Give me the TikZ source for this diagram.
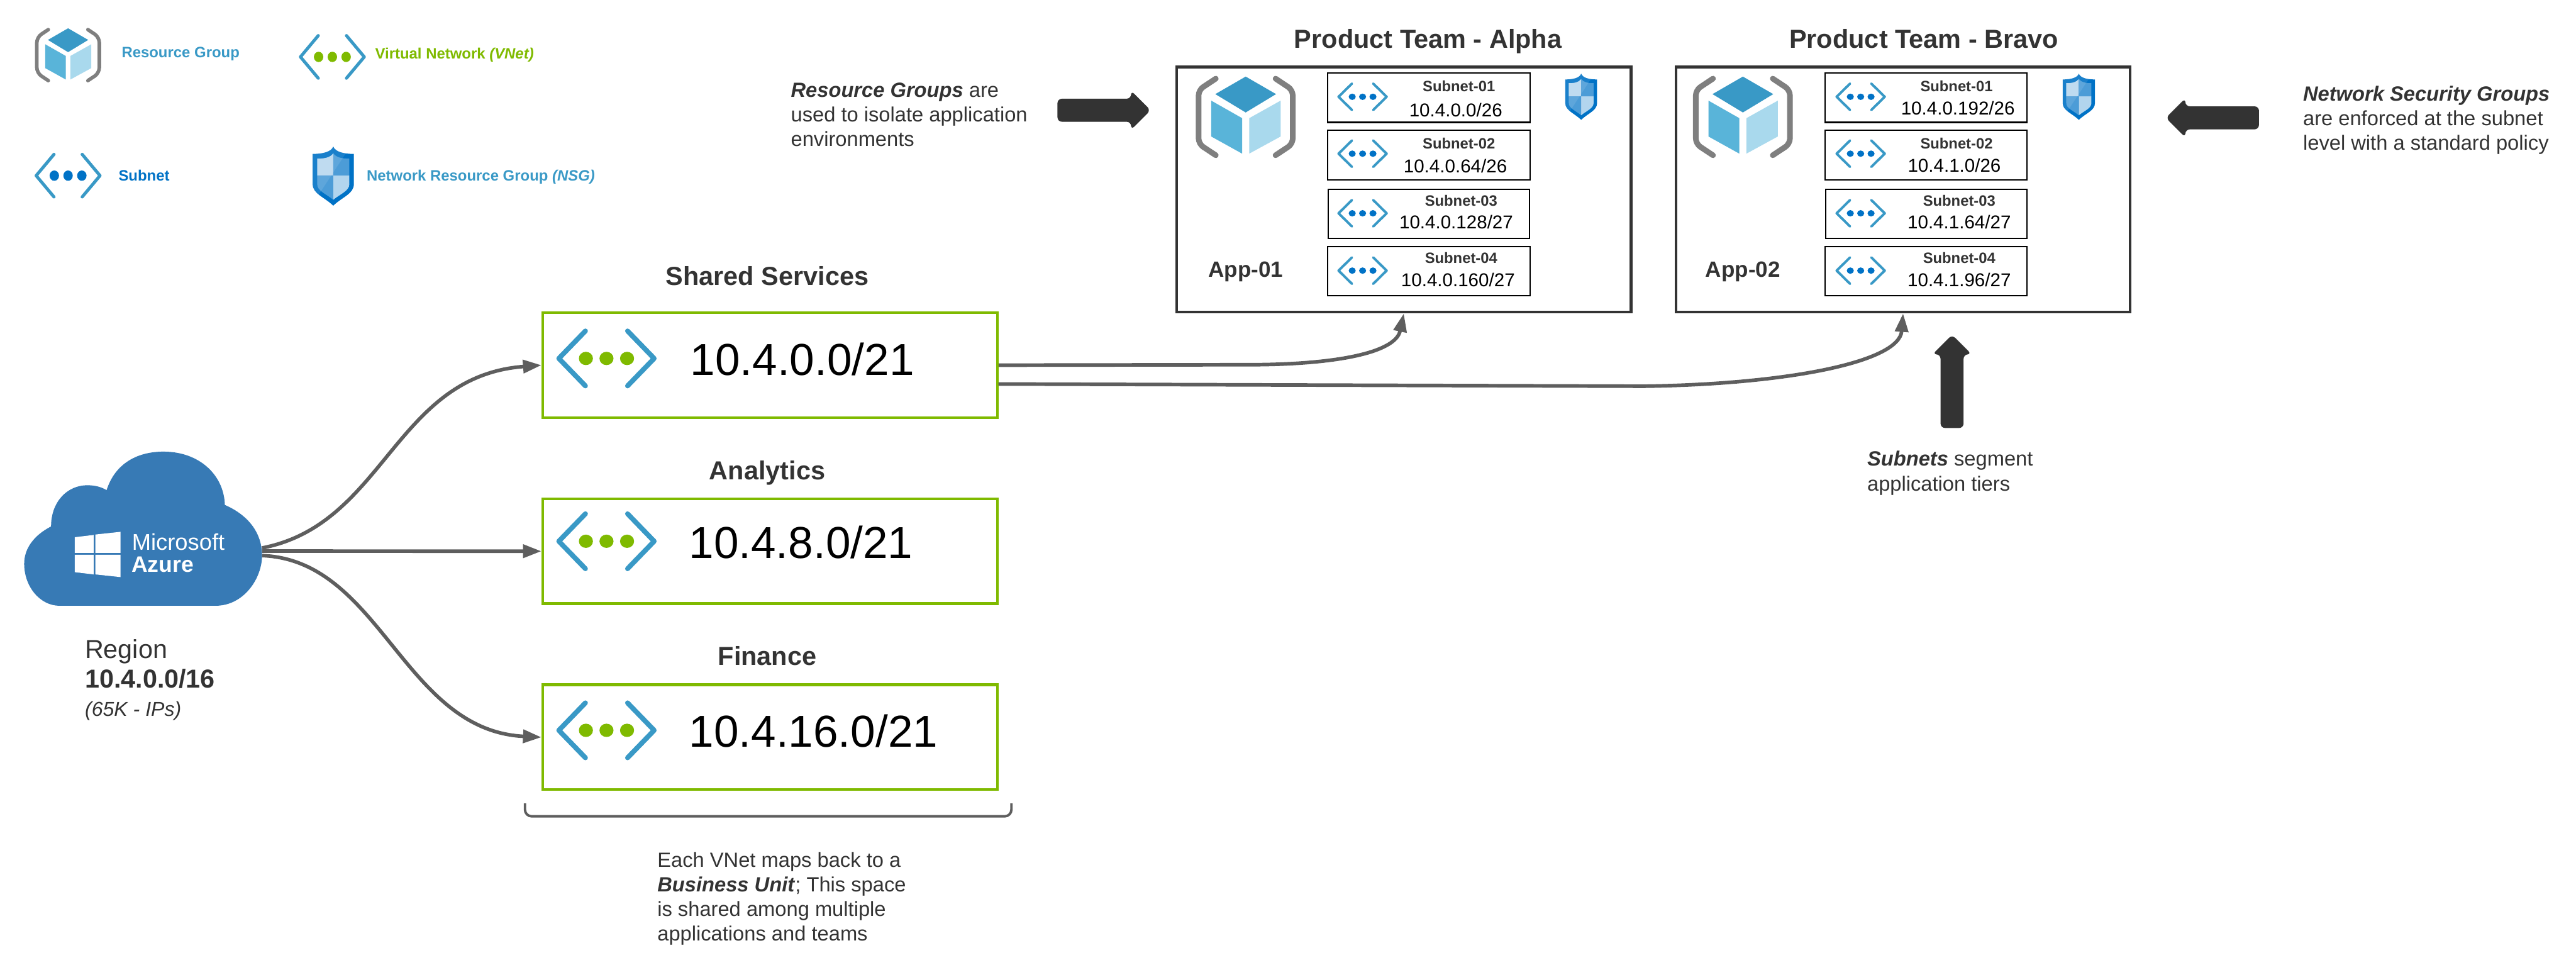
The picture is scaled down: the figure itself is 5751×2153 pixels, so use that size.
\documentclass[tikz,border=0pt]{standalone}
\usepackage{fontspec}
\setmainfont{Liberation Sans}
\usepackage{xcolor}
\usetikzlibrary{%
  shapes.arrows,
  arrows.meta,
  positioning}
\definecolor{azgreen}{HTML}{7FBA00}
\definecolor{azblue}{HTML}{3999C6}
\definecolor{azmid}{HTML}{59B4D9}
\definecolor{azpale}{HTML}{A9D9ED}
\definecolor{azdeep}{HTML}{0072C6}
\definecolor{azcloud}{HTML}{377AB5}
\definecolor{azgrey}{HTML}{7F7F7F}
\definecolor{inkdark}{HTML}{333333}
\definecolor{linkgrey}{HTML}{5E5E5E}
\tikzset{
  %% Boxes
  vnetbox/.style={
    rectangle, draw=azgreen, line width=0.06cm, fill=white,
    minimum width=10.14cm, minimum height=2.34cm},
  teambox/.style={
    rectangle, draw=inkdark, line width=0.06cm,
    minimum width=10.14cm, minimum height=5.47cm},
  subbox/.style={
    rectangle, draw=black, line width=0.03cm,
    minimum width=4.51cm, minimum height=1.10cm},
  %% Text
  plain/.style={inner sep=0pt, text=inkdark},
  legend/.style={plain, anchor=west, font=\fontsize{9.55}{11}\selectfont\bfseries},
  note/.style={plain, anchor=west, align=left, font=\fontsize{13.05}{15.65}\selectfont},
  heading/.style={plain, font=\fontsize{16.55}{19}\selectfont\bfseries},
  subname/.style={plain, font=\fontsize{9.5}{11}\selectfont\bfseries},
  subaddr/.style={plain, text=black, font=\fontsize{11.8}{14}\selectfont},
  appname/.style={plain, font=\fontsize{14}{17}\selectfont\bfseries},
  vnetaddr/.style={plain, text=black, font=\fontsize{28.4}{32}\selectfont},
  %% Arrows
  arrow/.style={-{Triangle[length=0.41cm,width=0.29cm]}, line width=0.08cm, linkgrey},
  bigarrow/.style={
    single arrow, fill=inkdark, inner sep=0.25cm, rounded corners=0.1cm,
    single arrow head extend=0.18cm,
    minimum height=2.08cm},
  chevline/.style={draw=azblue, line cap=round, line join=round},
  %% Icons, all drawn on a box of -100..100
  pics/netmark/.style={code={
    \draw[chevline] (-42,-95) -- (-95,0) -- (-42,95);
    \draw[chevline] (42,-95) -- (95,0) -- (42,95);
    \fill[#1] (-41,0) ellipse [x radius=14, y radius=23];
    \fill[#1] (0,0) ellipse [x radius=14, y radius=23];
    \fill[#1] (41,0) ellipse [x radius=14, y radius=23];
  }},
  pics/groupmark/.style={code={
    \draw[azgrey, line cap=round, rounded corners=0.12cm]
      (-59,-94) -- (-93,-66) -- (-93,66) -- (-59,94);
    \draw[azgrey, line cap=round, rounded corners=0.12cm]
      (59,-94) -- (93,-66) -- (93,66) -- (59,94);
    \fill[azblue] (0,-99) -- (60,-56) -- (0,-11) -- (-60,-56) -- cycle;
    \fill[azmid] (-68,-40) -- (-7,3) -- (-7,90) -- (-68,48) -- cycle;
    \fill[azpale] (69,-40) -- (7,3) -- (7,90) -- (69,48) -- cycle;
  }},
  pics/shieldmark/.style={code={
    \fill[azdeep] (0,-100) .. controls (10,-82) and (50,-75) .. (100,-75)
      -- (100,27) .. controls (100,60) and (45,70) .. (0,100)
      .. controls (-45,70) and (-100,60) .. (-100,27)
      -- (-100,-75) .. controls (-50,-75) and (-10,-82) .. cycle;
    \fill[white!72!azdeep] (0,-77) .. controls (-15,-62) and (-45,-59) .. (-78,-59)
      -- (-78,-2) -- (0,-2) -- cycle;
    \fill[white!70!azdeep] (0,-2) -- (78,-2) -- (78,27)
      .. controls (78,50) and (35,60) .. (0,80) -- cycle;
    \fill[white!30!azdeep] (0,-77) .. controls (15,-62) and (45,-59) .. (78,-59)
      -- (78,-2) -- (0,-2) -- cycle;
    \fill[white!30!azdeep] (0,-2) -- (-78,-2) -- (-78,27)
      .. controls (-78,50) and (-35,60) .. (0,80) -- cycle;
    \begin{scope}
      \clip (0,-100) .. controls (10,-82) and (50,-75) .. (100,-75)
        -- (100,27) .. controls (100,60) and (45,70) .. (0,100)
        .. controls (-45,70) and (-100,60) .. (-100,27)
        -- (-100,-75) .. controls (-50,-75) and (-10,-82) .. cycle;
      \fill[white, opacity=0.1] (-110,-110) -- (92,-110) -- (-70,62) -- (-110,100) -- cycle;
    \end{scope}
  }},
}

\begin{document}
\begin{tikzpicture}[x=0.01cm, y=-0.01cm]
  \useasboundingbox (0,0) rectangle (5751,2153);

  %% Legend
  \pic[xscale=0.75, yscale=0.605, line width=0.08cm] at (152,123) {groupmark};
  \node[legend, text=azblue] (lgroup) at (271,120) {Resource Group};
  \pic[xscale=0.75, yscale=0.50, line width=0.07cm] at (742,127) {netmark=azgreen};
  \node[legend, text=azgreen] (lvnet) at (837,122) {Virtual Network \textit{(VNet)}};
  \pic[xscale=0.75, yscale=0.50, line width=0.07cm] at (152,392) {netmark=azdeep};
  \node[legend, text=azdeep] (lsubnet) at (264,391) {Subnet};
  \pic[xscale=0.46, yscale=0.66] at (744,393) {shieldmark};
  \node[legend, text=azblue] (lnsg) at (818,395) {Network Resource Group \textit{(NSG)}};

  %% Notes
  \node[note] (rgnote) at (1765,256) {\textbf{\textit{Resource Groups}} are\\ used to isolate application\\ environments};
  \node[note] (nsgnote) at (5141,268) {\textbf{\textit{Network Security Groups}}\\ are enforced at the subnet\\ level with a standard policy};
  \node[note] (subnote) at (4168,1056) {\textbf{\textit{Subnets}} segment\\ application tiers};
  \node[note] (bunote) at (1467,2006) {Each VNet maps back to a\\ \textbf{\textit{Business Unit}}; This space\\ is shared among multiple\\ applications and teams};

  \node[bigarrow] (rgarrow) at (2452,246) {};
  \node[bigarrow, shape border rotate=180] (nsgarrow) at (4952,263) {};
  \node[bigarrow, shape border rotate=90] (subarrow) at (4358,864) {};

  %% Product teams
  \node[teambox] (alpha) at (3134,423) {};
  \node[teambox, right=0.94cm of alpha] (bravo) {};
  \node[heading] (alphatitle) at (3188,92) {Product Team - Alpha};
  \node[heading] (bravotitle) at (4295,86) {Product Team - Bravo};

  \pic[xscale=1.13, yscale=0.91, line width=0.125cm] at (2781,261) {groupmark};
  \pic[xscale=1.13, yscale=0.91, line width=0.125cm] at (3891,261) {groupmark};
  \node[appname] (app1) at (2781,607) {App-01};
  \node[appname] (app2) at (3891,607) {App-02};
  \pic[xscale=0.355, yscale=0.515] at (3530,216) {shieldmark};
  \pic[xscale=0.36, yscale=0.515] at (4641,216) {shieldmark};

  %% Alpha subnets
  \node[subbox] (asub1) at (3190,218) {};
  \node[subbox, below=0.15cm of asub1] (asub2) {};
  \node[subbox, below=0.18cm of asub2, minimum width=4.49cm] (asub3) {};
  \node[subbox, below=0.15cm of asub3] (asub4) {};
  \pic[xscale=0.565, yscale=0.31, line width=0.055cm] at (3042,216) {netmark=azdeep};
  \pic[xscale=0.565, yscale=0.31, line width=0.055cm] at (3042,343) {netmark=azdeep};
  \pic[xscale=0.565, yscale=0.31, line width=0.055cm] at (3042,476) {netmark=azdeep};
  \pic[xscale=0.565, yscale=0.31, line width=0.055cm] at (3042,604) {netmark=azdeep};
  \node[subname] (aname1) at (3257,193) {Subnet-01};
  \node[subname] (aname2) at (3257,320) {Subnet-02};
  \node[subname] (aname3) at (3262,448) {Subnet-03};
  \node[subname] (aname4) at (3262,576) {Subnet-04};
  \node[subaddr] (aaddr1) at (3250,246) {10.4.0.0/26};
  \node[subaddr] (aaddr2) at (3249,371) {10.4.0.64/26};
  \node[subaddr] (aaddr3) at (3251,495) {10.4.0.128/27};
  \node[subaddr] (aaddr4) at (3255,624) {10.4.0.160/27};

  %% Bravo subnets
  \node[subbox] (bsub1) at (4300,218) {};
  \node[subbox, below=0.15cm of bsub1] (bsub2) {};
  \node[subbox, below=0.18cm of bsub2, minimum width=4.49cm] (bsub3) {};
  \node[subbox, below=0.15cm of bsub3] (bsub4) {};
  \pic[xscale=0.565, yscale=0.31, line width=0.055cm] at (4154,216) {netmark=azdeep};
  \pic[xscale=0.565, yscale=0.31, line width=0.055cm] at (4154,343) {netmark=azdeep};
  \pic[xscale=0.565, yscale=0.31, line width=0.055cm] at (4154,476) {netmark=azdeep};
  \pic[xscale=0.565, yscale=0.31, line width=0.055cm] at (4154,604) {netmark=azdeep};
  \node[subname] (bname1) at (4368,193) {Subnet-01};
  \node[subname] (bname2) at (4368,320) {Subnet-02};
  \node[subname] (bname3) at (4374,448) {Subnet-03};
  \node[subname] (bname4) at (4374,576) {Subnet-04};
  \node[subaddr] (baddr1) at (4371,242) {10.4.0.192/26};
  \node[subaddr] (baddr2) at (4363,369) {10.4.1.0/26};
  \node[subaddr] (baddr3) at (4374,495) {10.4.1.64/27};
  \node[subaddr] (baddr4) at (4374,624) {10.4.1.96/27};

  %% VNets
  \node[vnetbox] (vneta) at (1719,815) {};
  \node[vnetbox, below=1.75cm of vneta] (vnetb) {};
  \node[vnetbox, below=1.75cm of vnetb] (vnetc) {};
  \node[heading] (vnetatitle) at (1713,616) {Shared Services};
  \node[heading] (vnetbtitle) at (1713,1056) {Analytics};
  \node[heading] (vnetctitle) at (1713,1464) {Finance};
  \pic[xscale=1.12, yscale=0.645, line width=0.11cm] at (1354,800) {netmark=azgreen};
  \pic[xscale=1.12, yscale=0.645, line width=0.11cm] at (1354,1208) {netmark=azgreen};
  \pic[xscale=1.12, yscale=0.645, line width=0.11cm] at (1354,1630) {netmark=azgreen};
  \node[vnetaddr] (vnetaaddr) at (1791,802) {10.4.0.0/21};
  \node[vnetaddr] (vnetbaddr) at (1788,1211) {10.4.8.0/21};
  \node[vnetaddr] (vnetcaddr) at (1816,1632) {10.4.16.0/21};

  %% Brace under the VNets
  \draw[linkgrey, line width=0.055cm, rounded corners=0.15cm]
    (1172,1793) -- (1172,1822) -- (2258,1822) -- (2258,1793);

  %% Azure cloud
  \fill[azcloud] (133,1352) -- (481,1352)
    .. controls (545,1352) and (585,1290) .. (585,1240)
    .. controls (585,1190) and (555,1150) .. (502,1127)
    .. controls (500,1060) and (445,1008) .. (365,1008)
    .. controls (300,1008) and (255,1040) .. (238,1094)
    .. controls (225,1086) and (210,1083) .. (195,1083)
    .. controls (150,1083) and (114,1120) .. (114,1175)
    .. controls (75,1195) and (54,1225) .. (54,1258)
    .. controls (54,1310) and (90,1352) .. (133,1352) -- cycle;
  \fill[white] (167,1199) -- (209,1194) -- (209,1234) -- (167,1234) -- cycle;
  \fill[white] (213,1193) -- (269,1187) -- (269,1234) -- (213,1234) -- cycle;
  \fill[white] (167,1238) -- (209,1238) -- (209,1282) -- (167,1277) -- cycle;
  \fill[white] (213,1238) -- (269,1238) -- (269,1288) -- (213,1282) -- cycle;
  \node[plain, anchor=west, text=white, font=\fontsize{14.5}{17}\selectfont] (msname) at (294,1210) {Microsoft};
  \node[plain, anchor=west, text=white, font=\fontsize{14.2}{17}\selectfont\bfseries] (azname) at (293,1260) {Azure};
  \node[plain, anchor=west, align=left, font=\fontsize{16.5}{19.4}\selectfont] (region) at (189,1517)
    {Region\\[-0.01cm] \textbf{10.4.0.0/16}\\[-0.06cm] {\fontsize{12.8}{19.4}\selectfont\itshape (65K - IPs)}};
  \coordinate (cloudtop) at (585,1223);
  \coordinate (cloudmid) at (585,1230);
  \coordinate (cloudlow) at (585,1240);
  \coordinate (vnetabend) at (2788,814);
  \coordinate (vnetaout) at (2229,857);
  \coordinate (vnetbbend) at (3668,862);

  %% Connectors
  \draw[arrow] (cloudtop) .. controls (860,1170) and (880,840) .. (vneta.west);
  \draw[arrow] (cloudmid) -- (vnetb.west);
  \draw[arrow] (cloudlow) .. controls (850,1250) and (900,1630) .. (vnetc.west);
  \draw[arrow] (vneta.east) -- (vnetabend) .. controls (2970,814) and (3115,790) .. (alpha.south);
  \draw[arrow] (vnetaout) -- (vnetbbend) .. controls (3980,858) and (4240,810) .. (bravo.south);

\end{tikzpicture}
\end{document}
